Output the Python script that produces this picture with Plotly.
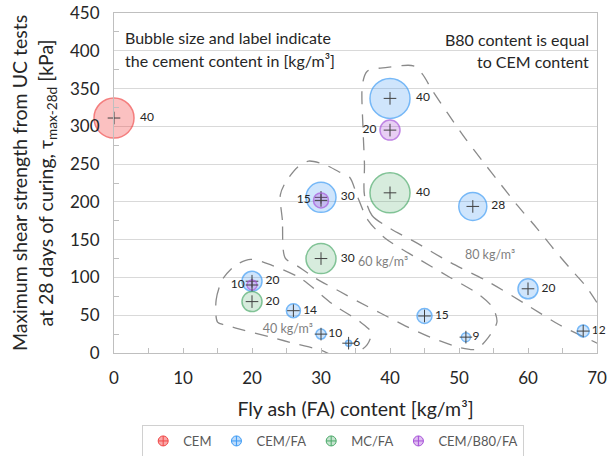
import plotly.graph_objects as go

# Fly ash content [kg/m3], 28-day shear strength [kPa], cement content [kg/m3]
cem_fa = [0]
cem_tau = [311]
cem_c = [40]

cemfa_fa = [40, 30, 52, 20, 60, 26, 45, 30, 34, 51, 68]
cemfa_tau = [337, 206, 194, 95, 85, 56, 49, 25, 13, 21, 29]
cemfa_c = [40, 30, 28, 20, 20, 14, 15, 10, 6, 9, 12]

mcfa_fa = [40, 30, 20]
mcfa_tau = [212, 125, 68]
mcfa_c = [40, 30, 20]

b80_fa = [40, 30, 20]
b80_tau = [295, 202, 90]
b80_c = [20, 15, 10]

# Outlines of the zones of equal total binder content
zone40_x = [15.0, 14.8, 15.7, 17.6, 19.8, 22.9, 27.0, 31.8, 35.7, 37.3, 36.7, 35.4,
            33.5, 29.9, 26.4, 22.7, 18.9, 16.1, 15.0]
zone40_y = [41, 70, 97, 116, 124, 116, 99, 64, 41, 27, 11, 1,
            -9, 4, 12, 21, 30, 37, 41]
zone60_x = [24.8, 24.4, 24.1, 24.8, 26.6, 28.2, 30.6, 32.8, 34.2, 35.2, 36.8, 39.3,
            44.4, 48.7, 52.8, 54.9, 55.5, 54.2, 52.5, 50.2, 45.8, 42.2, 38.6, 35.4,
            32.8, 29.2, 26.6, 24.8]
zone60_y = [126, 176, 209, 225, 246, 254, 249, 239, 232, 209, 176, 152,
            123, 100, 78, 60, 41, 20, 5, 7, 21, 36, 53, 68,
            81, 99, 115, 126]
zone80_x = [36.3, 37.4, 40.0, 43.6, 48.7, 54.5, 60.3, 64.6, 68.2, 71.9, 72.2, 71.1,
            68.5, 66.1, 63.6, 61.3, 58.4, 55.9, 53.5, 50.9, 48.3, 46.1, 44.7, 43.4,
            39.6, 36.7, 36.0, 36.1, 36.3, 36.3]
zone80_y = [209, 182, 165, 147, 120, 93, 61, 37, 21, 8, 30, 50,
            87, 112, 139, 165, 196, 225, 253, 284, 318, 348, 369, 380,
            378, 373, 355, 295, 249, 209]
zone_labels = ["40 kg/m³", "60 kg/m³", "80 kg/m³"]
zone_label_x = [25.2, 39.0, 54.5]
zone_label_y = [31, 119, 128]

FONT = "Lato"
TXT = "#262626"

groups = [
    ("CEM", cem_fa, cem_tau, cem_c, "rgba(245,60,60,0.45)", "#f04848", "middle right"),
    ("CEM/FA", cemfa_fa, cemfa_tau, cemfa_c, "rgba(70,155,245,0.36)", "#3d9bf5", "middle right"),
    ("MC/FA", mcfa_fa, mcfa_tau, mcfa_c, "rgba(80,170,110,0.32)", "#4caa6a", "middle right"),
    ("CEM/B80/FA", b80_fa, b80_tau, b80_c, "rgba(170,80,215,0.38)", "#a652d9", "middle left"),
]

fig = go.Figure()

for zx, zy in [(zone40_x, zone40_y), (zone60_x, zone60_y), (zone80_x, zone80_y)]:
    fig.add_trace(go.Scatter(
        x=zx, y=zy, mode="lines", showlegend=False, hoverinfo="skip",
        line=dict(color="#8a8a8a", width=1.3, dash="13px,10px", shape="spline", smoothing=0.8),
    ))

fig.add_trace(go.Scatter(
    x=zone_label_x, y=zone_label_y, mode="text", text=zone_labels, showlegend=False,
    textfont=dict(family=FONT, size=12.5, color="#7f7f7f"), hoverinfo="skip",
))

for name, fx, ty, cc, fill, edge, pos in groups:
    fig.add_trace(go.Scatter(
        x=fx, y=ty, mode="markers+text", text=[str(c) for c in cc], textposition=pos,
        textfont=dict(family=FONT, size=12, color=TXT), showlegend=False, cliponaxis=False,
        marker=dict(size=cc, sizemode="diameter", color=fill, line=dict(color=edge, width=1.5)),
    ))
    fig.add_trace(go.Scatter(
        x=fx, y=ty, mode="markers", showlegend=False, cliponaxis=False, hoverinfo="skip",
        marker=dict(symbol="cross-thin", size=9, line=dict(color="#404040", width=1)),
    ))

# legend entries
for name, fx, ty, cc, fill, edge, pos in groups:
    fig.add_trace(go.Scatter(
        x=[None], y=[None], mode="markers", name=name,
        marker=dict(symbol="circle-cross", size=10, color=fill, line=dict(color=edge, width=1)),
    ))

note_font = dict(family=FONT, size=16, color=TXT)
fig.add_annotation(xref="paper", yref="paper", x=0.019, y=0.927, xanchor="left", yanchor="middle",
                   text="Bubble size and label indicate", showarrow=False, font=note_font)
fig.add_annotation(xref="paper", yref="paper", x=0.019, y=0.859, xanchor="left", yanchor="middle",
                   text="the cement content in [kg/m³]", showarrow=False, font=note_font)
fig.add_annotation(xref="paper", yref="paper", x=0.9876, y=0.9206, xanchor="right", yanchor="middle",
                   text="B80 content is equal", showarrow=False, font=note_font)
fig.add_annotation(xref="paper", yref="paper", x=0.9876, y=0.8574, xanchor="right", yanchor="middle",
                   text="to CEM content", showarrow=False, font=note_font)

fig.update_layout(
    width=608, height=456,
    margin=dict(l=113.5, r=11, t=13.3, b=103),
    paper_bgcolor="white", plot_bgcolor="white",
    font=dict(family=FONT, color=TXT),
    legend=dict(orientation="h", xref="container", yref="container",
                x=0.548, xanchor="center", y=0.068, yanchor="top",
                bordercolor="#d0d0d0", borderwidth=1, bgcolor="white",
                font=dict(family=FONT, size=13, color="#595959"), itemwidth=30),
    xaxis=dict(
        range=[0, 70], dtick=10, showgrid=False, zeroline=False, automargin=False,
        showline=True, linecolor="#bfbfbf", linewidth=1, mirror=True,
        ticks="inside", ticklen=5, tickcolor="#bfbfbf",
        minor=dict(dtick=5, ticks="inside", ticklen=5, tickcolor="#bfbfbf"),
        tickfont=dict(family=FONT, size=17, color=TXT), ticklabelstandoff=10,
        title=dict(text="Fly ash (FA) content [kg/m³]", font=dict(family=FONT, size=19.5, color=TXT),
                   standoff=14),
    ),
    yaxis=dict(
        range=[0, 450], dtick=50, showgrid=True, gridcolor="#d9d9d9", gridwidth=1, zeroline=False,
        automargin=False,
        showline=True, linecolor="#bfbfbf", linewidth=1, mirror=True,
        ticks="", minor=dict(dtick=25, ticks="inside", ticklen=5, tickcolor="#bfbfbf", showgrid=False),
        tickfont=dict(family=FONT, size=17, color=TXT), ticklabelstandoff=10,
        title=dict(text="Maximum shear strength from UC tests<br>at 28 days of curing, τ<sub>max-28d</sub> [kPa]",
                   font=dict(family=FONT, size=19.5, color=TXT), standoff=11),
    ),
)

fig.write_html("out.html")
